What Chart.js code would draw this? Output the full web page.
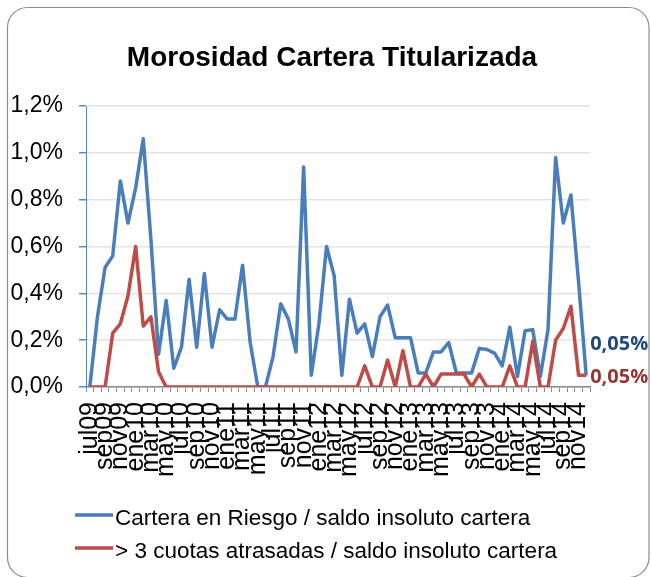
<!DOCTYPE html>
<html>
<head>
<meta charset="utf-8">
<script src="https://cdn.jsdelivr.net/npm/chart.js@4/dist/chart.umd.min.js"></script>
<style>
  html, body { margin: 0; padding: 0; background: #fff; }
  #wrap { position: relative; width: 651px; height: 577px; }
</style>
</head>
<body>
<div id="wrap"><canvas id="morosidad" width="651" height="577"></canvas></div>
<script>
// datos (en %)
const meses = [
  'jul09','ago09','sep09','oct09','nov09','dic09',
  'ene10','feb10','mar10','abr10','may10','jun10','jul10','ago10','sep10','oct10','nov10','dic10',
  'ene11','feb11','mar11','abr11','may11','jun11','jul11','ago11','sep11','oct11','nov11','dic11',
  'ene12','feb12','mar12','abr12','may12','jun12','jul12','ago12','sep12','oct12','nov12','dic12',
  'ene13','feb13','mar13','abr13','may13','jun13','jul13','ago13','sep13','oct13','nov13','dic13',
  'ene14','feb14','mar14','abr14','may14','jun14','jul14','ago14','sep14','oct14','nov14','dic14'
];

const carteraRiesgo = [
  0, 0.30, 0.51, 0.56, 0.88, 0.70,
  0.85, 1.06, 0.63, 0.14, 0.37, 0.08, 0.17, 0.46, 0.17, 0.485, 0.17, 0.33,
  0.29, 0.29, 0.52, 0.19, 0, 0, 0.13, 0.355, 0.29, 0.15, 0.94, 0.05,
  0.27, 0.60, 0.475, 0.05, 0.375, 0.23, 0.27, 0.13, 0.30, 0.35, 0.21, 0.21,
  0.21, 0.06, 0.06, 0.15, 0.15, 0.19, 0.06, 0.06, 0.06, 0.165, 0.16, 0.145,
  0.09, 0.255, 0.045, 0.24, 0.245, 0.045, 0.245, 0.98, 0.70, 0.82, 0.45, 0.05
];

const cuotasAtrasadas = [
  0, 0, 0, 0.23, 0.27, 0.39,
  0.60, 0.26, 0.30, 0.065, 0, 0, 0, 0, 0, 0, 0, 0,
  0, 0, 0, 0, 0, 0, 0, 0, 0, 0, 0, 0,
  0, 0, 0, 0, 0, 0, 0.09, 0, 0, 0.115, 0, 0.155,
  0, 0, 0.055, 0, 0.055, 0.055, 0.055, 0.055, 0, 0.055, 0, 0,
  0, 0.09, 0, 0, 0.195, 0, 0, 0.20, 0.25, 0.345, 0.05, 0.05
];

const nombresSeries = [
  'Cartera en Riesgo / saldo insoluto cartera',
  '> 3 cuotas atrasadas / saldo insoluto cartera'
];
const coloresSeries = ['#4A7EBB', '#BE4B48'];
const coloresEtiqueta = ['#1F497D', '#953735'];

const ARIAL = "Arial, 'Liberation Sans', sans-serif";
const fmtPct = v => v.toFixed(1).replace('.', ',') + '%';
const fmtPct2 = v => v.toFixed(2).replace('.', ',') + '%';

// marco, título, leyenda y etiquetas del último punto
const extras = {
  id: 'extras',
  beforeDraw(chart) {
    const ctx = chart.ctx;
    ctx.save();
    ctx.fillStyle = '#fff';
    ctx.fillRect(0, 0, chart.width, chart.height);
    ctx.restore();
  },
  afterDraw(chart) {
    const ctx = chart.ctx;
    ctx.save();

    // marco redondeado
    ctx.strokeStyle = '#8C8C8C';
    ctx.lineWidth = 1.2;
    ctx.beginPath();
    ctx.roundRect(7.5, 7.5, 641.5, 570, 20);
    ctx.stroke();

    // título
    ctx.fillStyle = '#000';
    ctx.font = 'bold 28px ' + ARIAL;
    ctx.textAlign = 'center';
    ctx.textBaseline = 'alphabetic';
    ctx.fillText('Morosidad Cartera Titularizada', 332, 66);

    // leyenda
    const filas = [515, 548];
    ctx.font = '22.5px ' + ARIAL;
    ctx.textAlign = 'left';
    nombresSeries.forEach((txt, i) => {
      const y = filas[i];
      ctx.strokeStyle = coloresSeries[i];
      ctx.lineWidth = 3.5;
      ctx.beginPath();
      ctx.moveTo(75, y);
      ctx.lineTo(113, y);
      ctx.stroke();
      ctx.fillStyle = '#000';
      ctx.fillText(txt, 115, y + 10);
    });

    // etiquetas de datos del último mes
    const desp = [-31, 2];
    ctx.font = "bold 20px 'Open Sans', sans-serif";
    ctx.textBaseline = 'middle';
    chart.data.datasets.forEach((ds, i) => {
      const pts = chart.getDatasetMeta(i).data;
      const p = pts[pts.length - 1];
      ctx.fillStyle = coloresEtiqueta[i];
      ctx.fillText(fmtPct2(ds.data[ds.data.length - 1]), p.x + 4, p.y + desp[i]);
    });

    ctx.restore();
  }
};

new Chart(document.getElementById('morosidad'), {
  type: 'line',
  data: {
    labels: meses,
    datasets: [
      {
        label: nombresSeries[0],
        data: carteraRiesgo,
        borderColor: coloresSeries[0],
        backgroundColor: coloresSeries[0],
        borderWidth: 3.5,
        pointRadius: 0,
        tension: 0,
        borderJoinStyle: 'round',
        order: 1
      },
      {
        label: nombresSeries[1],
        data: cuotasAtrasadas,
        borderColor: coloresSeries[1],
        backgroundColor: coloresSeries[1],
        borderWidth: 3.5,
        pointRadius: 0,
        tension: 0,
        borderJoinStyle: 'round',
        order: 0
      }
    ]
  },
  options: {
    responsive: false,
    animation: false,
    layout: { padding: { left: 0, top: 106, right: 61, bottom: 90 } },
    plugins: {
      legend: { display: false },
      title: { display: false },
      tooltip: { enabled: false }
    },
    scales: {
      x: {
        type: 'category',
        offset: true,
        afterFit(scale) { scale.height = 100; },
        grid: {
          drawOnChartArea: false,
          drawTicks: true,
          tickLength: 5,
          tickColor: '#898989',
          offset: true
        },
        border: { color: '#898989', width: 1.5 },
        ticks: {
          autoSkip: false,
          minRotation: 90,
          maxRotation: 90,
          padding: 10,
          color: '#000',
          font: { family: ARIAL, size: 25 },
          callback: (v, i) => (i % 2 === 0 ? meses[i] : '')
        }
      },
      y: {
        min: 0,
        max: 1.2,
        afterFit(scale) { scale.width = 86; },
        grid: {
          color: '#E3E3E3',
          lineWidth: 1.5,
          tickLength: 7,
          tickColor: '#5A8AC6'
        },
        border: { color: '#5A8AC6', width: 1 },
        ticks: {
          stepSize: 0.2,
          padding: 16,
          color: '#000',
          font: { family: ARIAL, size: 23 },
          callback: v => fmtPct(v)
        }
      }
    }
  },
  plugins: [extras]
});
</script>
</body>
</html>
